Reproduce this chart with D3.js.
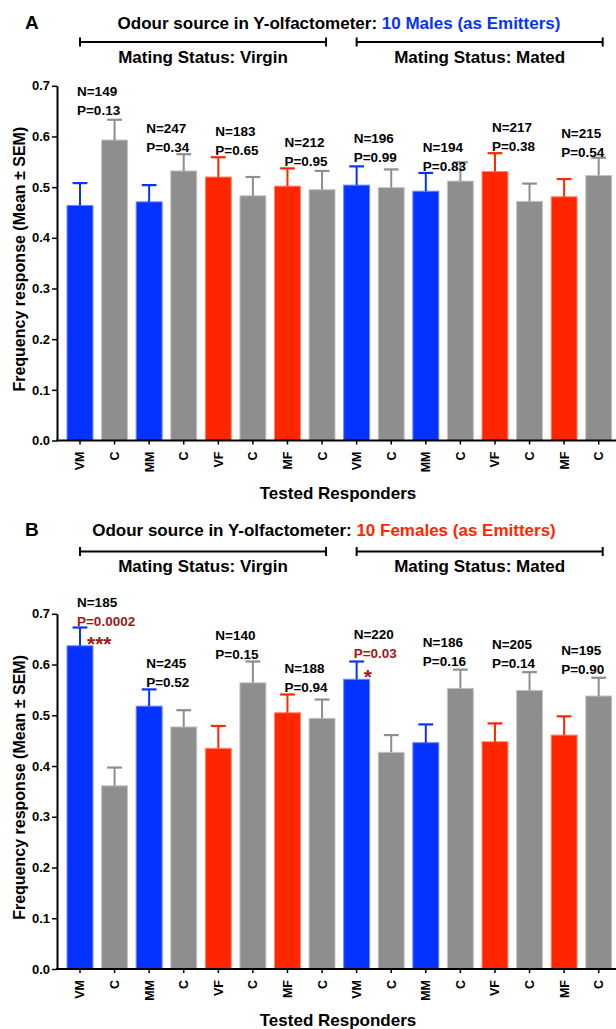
<!DOCTYPE html>
<html>
<head>
<meta charset="utf-8">
<script src="https://cdn.jsdelivr.net/npm/d3@7"></script>
<style>
  body { margin: 0; background: #fff; }
  svg { display: block; font-family: "Liberation Sans", Arial, sans-serif; font-weight: bold; }
</style>
</head>
<body>
<svg id="chart" width="616" height="1029"></svg>
<script>
// tested responders (same order in both panels)
let responders = ["VM", "C", "MM", "C", "VF", "C", "MF", "C", "VM", "C", "MM", "C", "VF", "C", "MF", "C"];
let yTicks = [0, 0.1, 0.2, 0.3, 0.4, 0.5, 0.6, 0.7];

// panel A: 10 males as emitters
let meanA = [0.464, 0.593, 0.471, 0.532, 0.520, 0.483, 0.502, 0.495, 0.504, 0.499, 0.492, 0.512, 0.531, 0.472, 0.481, 0.523];
let semA = [0.044, 0.040, 0.033, 0.033, 0.039, 0.037, 0.035, 0.037, 0.037, 0.036, 0.036, 0.037, 0.036, 0.035, 0.035, 0.035];
let nA = [149, 247, 183, 212, 196, 194, 217, 215];
let pA = ["0.13", "0.34", "0.65", "0.95", "0.99", "0.83", "0.38", "0.54"];
let starsA = ["", "", "", "", "", "", "", ""];
let levelA = [0.652, 0.579, 0.573, 0.551, 0.559, 0.542, 0.581, 0.568];

// panel B: 10 females as emitters
let meanB = [0.637, 0.361, 0.518, 0.477, 0.435, 0.564, 0.505, 0.494, 0.571, 0.427, 0.446, 0.553, 0.448, 0.549, 0.461, 0.538];
let semB = [0.036, 0.036, 0.033, 0.033, 0.044, 0.042, 0.036, 0.037, 0.035, 0.034, 0.036, 0.037, 0.036, 0.036, 0.037, 0.036];
let nB = [185, 245, 140, 188, 220, 186, 205, 195];
let pB = ["0.0002", "0.52", "0.15", "0.94", "0.03", "0.16", "0.14", "0.90"];
let starsB = ["***", "", "", "", "*", "", "", ""];
let levelB = [0.686, 0.566, 0.620, 0.555, 0.622, 0.606, 0.602, 0.590];

let blue = "#0433ff";
let red = "#ff2600";
let gray = "#8e8e8e";
let sigRed = "#a01818";

let colorOf = (label) => {
  if (label === "C") return gray;
  return label.endsWith("M") ? blue : red;
};
let edgeOf = (label) => {
  if (label === "C") return "#c4c4c4";
  return label.endsWith("M") ? "#6f86ff" : "#ff8a70";
};

let svg = d3.select("#chart");
let axisX = 57;

let x = d3.scaleBand()
  .domain(d3.range(responders.length))
  .range([62.7, 616])
  .paddingInner(0.25)
  .paddingOuter(0.125);

let drawPanel = (p) => {
  let y = d3.scaleLinear().domain([0, 0.7]).range([p.y0, p.y1]);
  let g = svg.append("g");

  // panel letter + title
  g.append("text").attr("x", 25).attr("y", p.titleY).attr("font-size", 19).text(p.letter);
  let title = g.append("text")
    .attr("x", p.titleX)
    .attr("y", p.titleY)
    .attr("text-anchor", "middle")
    .attr("font-size", 17);
  title.append("tspan").attr("fill", "#000").text("Odour source in Y-olfactometer: ");
  title.append("tspan").attr("fill", p.emitterColor).text(p.emitter);

  // mating status brackets
  let groups = [
    { from: 0, to: 7, text: "Mating Status: Virgin" },
    { from: 8, to: 15, text: "Mating Status: Mated" },
  ];
  groups.forEach((grp) => {
    let x1 = x(grp.from) + x.bandwidth() / 2;
    let x2 = x(grp.to) + x.bandwidth() / 2 + 4;
    g.append("line").attr("x1", x1).attr("x2", x2).attr("y1", p.bracketY).attr("y2", p.bracketY)
      .attr("stroke", "#000").attr("stroke-width", 2);
    [x1, x2].forEach((xx) => {
      g.append("line").attr("x1", xx).attr("x2", xx).attr("y1", p.bracketY - 4.5).attr("y2", p.bracketY + 4.5)
        .attr("stroke", "#000").attr("stroke-width", 2);
    });
    g.append("text").attr("x", (x1 + x2) / 2).attr("y", p.matingY)
      .attr("text-anchor", "middle").attr("font-size", 17).text(grp.text);
  });

  // bars
  g.selectAll("rect.bar")
    .data(p.means)
    .enter()
    .append("rect")
    .attr("class", "bar")
    .attr("x", (d, i) => x(i))
    .attr("y", (d) => y(d))
    .attr("width", x.bandwidth())
    .attr("height", (d) => y(0) - y(d))
    .attr("fill", (d, i) => colorOf(responders[i]))
    .attr("stroke", (d, i) => edgeOf(responders[i]))
    .attr("stroke-width", 1);

  // upper error bars
  let capW = x.bandwidth() * 0.57;
  p.means.forEach((m, i) => {
    let cx = x(i) + x.bandwidth() / 2;
    let top = y(m + p.sems[i]);
    g.append("line").attr("x1", cx).attr("x2", cx).attr("y1", y(m)).attr("y2", top)
      .attr("stroke", colorOf(responders[i])).attr("stroke-width", 2);
    g.append("line").attr("x1", cx - capW / 2).attr("x2", cx + capW / 2).attr("y1", top).attr("y2", top)
      .attr("stroke", colorOf(responders[i])).attr("stroke-width", 2.2);
  });

  // y axis
  let yAxis = g.append("g")
    .attr("transform", "translate(" + axisX + ",0)")
    .call(d3.axisLeft(y).tickValues(yTicks).tickFormat(d3.format(".1f")).tickSize(5).tickSizeOuter(0).tickPadding(2));
  yAxis.select(".domain").attr("stroke-width", 2);
  yAxis.selectAll(".tick line").attr("stroke-width", 1.5);
  yAxis.selectAll("text").attr("font-size", 13).attr("font-weight", "bold").attr("font-family", "inherit").attr("fill", "#000");

  // x axis
  let xAxis = g.append("g")
    .attr("transform", "translate(0," + p.y0 + ")")
    .call(d3.axisBottom(x).tickFormat((i) => responders[i]).tickSize(4).tickSizeOuter(0));
  xAxis.select(".domain").remove();
  xAxis.selectAll(".tick line").attr("stroke-width", 1.5);
  xAxis.selectAll("text")
    .attr("font-size", 12.5)
    .attr("font-weight", "bold")
    .attr("font-family", "inherit")
    .attr("fill", "#000")
    .attr("text-anchor", "end")
    .attr("dy", null)
    .attr("y", 0)
    .attr("transform", "translate(4.5,11) rotate(-90)");
  g.append("line").attr("x1", axisX - 1).attr("x2", 616).attr("y1", p.y0).attr("y2", p.y0)
    .attr("stroke", "#000").attr("stroke-width", 2);

  // axis titles
  g.append("text")
    .attr("transform", "translate(25," + ((p.y0 + p.y1) / 2 - 4) + ") rotate(-90)")
    .attr("text-anchor", "middle").attr("font-size", 16)
    .text("Frequency response (Mean \u00b1 SEM)");
  g.append("text").attr("x", 338).attr("y", p.xTitleY)
    .attr("text-anchor", "middle").attr("font-size", 17).text("Tested Responders");

  // N / P annotations for each responder-control pair
  p.ns.forEach((n, k) => {
    let i = k * 2;
    let tx = x(i) + x.bandwidth() / 2 - 3;
    let py = y(p.levels[k]);
    let sig = p.stars[k] !== "";
    g.append("text").attr("x", tx).attr("y", py - 19).attr("dy", "0.35em")
      .attr("font-size", 13.5).text("N=" + n);
    g.append("text").attr("x", tx).attr("y", py).attr("dy", "0.35em")
      .attr("font-size", 13.5).attr("fill", sig ? sigRed : "#000").text("P=" + p.ps[k]);
    if (sig) {
      let top = y(p.means[i] + p.sems[i]);
      g.append("text").attr("x", x(i) + x.bandwidth() / 2 + 7).attr("y", top + 23)
        .attr("font-size", 21).attr("fill", sigRed).text(p.stars[k]);
    }
  });
};

drawPanel({
  letter: "A", emitter: "10 Males (as Emitters)", emitterColor: blue,
  means: meanA, sems: semA, ns: nA, ps: pA, stars: starsA, levels: levelA,
  y0: 440.5, y1: 85.8, titleX: 339, titleY: 28.5, bracketY: 42, matingY: 63, xTitleY: 498.5,
});

drawPanel({
  letter: "B", emitter: "10 Females (as Emitters)", emitterColor: red,
  means: meanB, sems: semB, ns: nB, ps: pB, stars: starsB, levels: levelB,
  y0: 969, y1: 613.8, titleX: 324, titleY: 536, bracketY: 551.5, matingY: 572, xTitleY: 1026,
});
</script>
</body>
</html>
